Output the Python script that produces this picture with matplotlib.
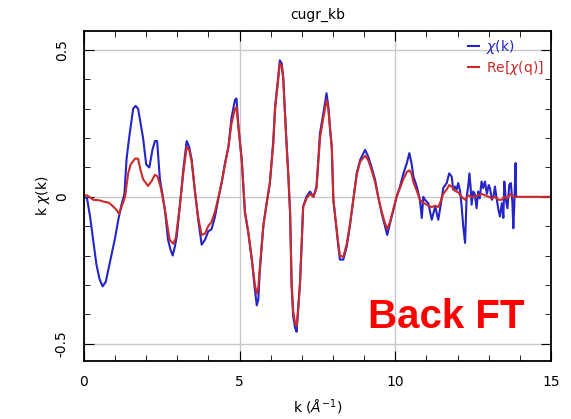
import numpy as np
import matplotlib
matplotlib.use("Agg")
import matplotlib.pyplot as plt
from matplotlib.ticker import MultipleLocator

# chi(k)
k_chi = [0.0, 0.1, 0.2, 0.3, 0.4, 0.5, 0.6, 0.7, 0.8, 0.9, 1.0, 1.1, 1.2, 1.3,
         1.37, 1.45, 1.58, 1.66, 1.74, 1.82, 1.9, 2.0, 2.1, 2.2, 2.28, 2.35,
         2.44, 2.52, 2.6, 2.7, 2.78, 2.85, 2.92, 2.98, 3.08, 3.19, 3.3, 3.38,
         3.46, 3.57, 3.67, 3.78, 3.89, 3.99, 4.1, 4.21, 4.31, 4.42, 4.53, 4.64,
         4.74, 4.85, 4.9, 4.96, 5.07, 5.17, 5.28, 5.39, 5.49, 5.55, 5.6, 5.65,
         5.76, 5.87, 5.97, 6.08, 6.14, 6.24, 6.29, 6.35, 6.4, 6.49, 6.56, 6.62,
         6.67, 6.72, 6.78, 6.83, 6.88, 6.94, 6.99, 7.04, 7.15, 7.26, 7.37, 7.47,
         7.58, 7.69, 7.79, 7.85, 7.9, 7.96, 8.01, 8.1, 8.17, 8.22, 8.33, 8.44,
         8.54, 8.65, 8.76, 8.87, 9.03, 9.13, 9.24, 9.35, 9.45, 9.56, 9.67, 9.74,
         9.83, 9.94, 10.04, 10.15, 10.26, 10.37, 10.45, 10.52, 10.58, 10.69,
         10.79, 10.85, 10.9, 10.95, 11.06, 11.17, 11.28, 11.38, 11.44, 11.54,
         11.65, 11.73, 11.81, 11.86, 11.92, 11.97, 12.02, 12.08, 12.13, 12.18,
         12.24, 12.29, 12.34, 12.38, 12.42, 12.45, 12.5, 12.55, 12.61, 12.66,
         12.71, 12.77, 12.82, 12.88, 12.94, 13.0, 13.04, 13.1, 13.15, 13.2,
         13.26, 13.31, 13.36, 13.42, 13.47, 13.5, 13.55, 13.6, 13.66, 13.71,
         13.76, 13.79, 13.82, 13.86, 13.88]
chi = [0.0, -0.005, -0.07, -0.15, -0.23, -0.28, -0.305, -0.29, -0.24, -0.19,
       -0.14, -0.08, -0.03, 0.01, 0.13, 0.2, 0.3, 0.31, 0.3, 0.25, 0.2, 0.11,
       0.1, 0.16, 0.19, 0.19, 0.06, 0.01, -0.044, -0.146, -0.18, -0.2, -0.17,
       -0.135, -0.033, 0.092, 0.19, 0.17, 0.126, 0.013, -0.078, -0.163, -0.146,
       -0.118, -0.11, -0.067, -0.01, 0.047, 0.115, 0.17, 0.27, 0.33, 0.335,
       0.24, 0.126, -0.055, -0.124, -0.214, -0.316, -0.37, -0.35, -0.25, -0.1,
       -0.02, 0.047, 0.19, 0.31, 0.41, 0.465, 0.455, 0.41, 0.217, 0.08, -0.055,
       -0.305, -0.407, -0.446, -0.46, -0.384, -0.294, -0.169, -0.033, 0.001,
       0.018, 0.0, 0.035, 0.217, 0.285, 0.353, 0.307, 0.239, 0.171, -0.01,
       -0.1, -0.169, -0.214, -0.214, -0.169, -0.1, -0.01, 0.08, 0.126, 0.16,
       0.137, 0.1, 0.058, 0.0, -0.055, -0.1, -0.13, -0.09, -0.044, 0.0, 0.035,
       0.08, 0.115, 0.149, 0.115, 0.069, 0.035, -0.01, -0.072, 0.0, -0.01,
       -0.022, -0.078, -0.033, -0.078, -0.039, 0.03, 0.047, 0.08, 0.069, 0.024,
       0.035, 0.024, 0.047, 0.02, -0.033, -0.1, -0.157, 0.0, 0.035, 0.08, 0.03,
       -0.027, 0.018, 0.01, -0.039, 0.018, -0.005, 0.052, 0.03, 0.052, 0.01,
       0.04, 0.03, -0.01, 0.0, 0.035, -0.01, -0.044, -0.067, -0.022, -0.072,
       0.052, -0.01, -0.039, 0.041, 0.047, -0.02, -0.107, -0.03, 0.115, 0.0]

# Re[chi(q)] back transform
k_re = [0.0, 0.1, 0.3, 0.5, 0.62, 0.8, 0.94, 1.05, 1.13, 1.22, 1.32, 1.42,
        1.5, 1.64, 1.74, 1.82, 1.9, 2.06, 2.18, 2.28, 2.36, 2.46, 2.6, 2.75,
        2.87, 2.95, 3.08, 3.19, 3.3, 3.38, 3.46, 3.57, 3.67, 3.78, 3.89, 3.99,
        4.1, 4.21, 4.31, 4.42, 4.53, 4.64, 4.74, 4.85, 4.9, 4.96, 5.07, 5.17,
        5.28, 5.39, 5.49, 5.55, 5.6, 5.65, 5.76, 5.87, 5.97, 6.08, 6.14, 6.24,
        6.29, 6.35, 6.4, 6.49, 6.56, 6.62, 6.67, 6.72, 6.78, 6.83, 6.88, 6.94,
        6.99, 7.04, 7.15, 7.26, 7.37, 7.47, 7.58, 7.69, 7.79, 7.85, 7.9, 7.96,
        8.01, 8.1, 8.17, 8.22, 8.33, 8.44, 8.54, 8.65, 8.76, 8.87, 9.03, 9.13,
        9.24, 9.35, 9.45, 9.56, 9.67, 9.74, 9.83, 9.94, 10.04, 10.15, 10.26,
        10.37, 10.45, 10.52, 10.58, 10.69, 10.79, 10.9, 11.06, 11.17, 11.28,
        11.38, 11.44, 11.54, 11.65, 11.73, 11.81, 11.92, 12.02, 12.13, 12.24,
        12.34, 12.45, 12.55, 12.66, 12.77, 12.88, 13.0, 13.1, 13.2, 13.31,
        13.42, 13.5, 13.6, 13.7, 13.8, 13.9, 15.0]
re_chi = [0.005, 0.005, -0.01, -0.012, -0.016, -0.02, -0.033, -0.045, -0.058,
          -0.03, 0.0, 0.08, 0.11, 0.13, 0.13, 0.09, 0.06, 0.037, 0.055, 0.075,
          0.07, 0.035, -0.044, -0.146, -0.16, -0.14, -0.03, 0.08, 0.17, 0.16,
          0.12, 0.015, -0.07, -0.13, -0.125, -0.1, -0.085, -0.05, -0.005,
          0.047, 0.11, 0.17, 0.25, 0.3, 0.305, 0.24, 0.12, -0.05, -0.12, -0.21,
          -0.3, -0.33, -0.31, -0.24, -0.1, -0.02, 0.045, 0.18, 0.3, 0.4, 0.455,
          0.445, 0.4, 0.21, 0.08, -0.05, -0.29, -0.39, -0.43, -0.44, -0.38,
          -0.29, -0.165, -0.035, -0.005, 0.01, 0.0, 0.03, 0.2, 0.27, 0.33, 0.3,
          0.235, 0.165, -0.01, -0.095, -0.16, -0.2, -0.205, -0.16, -0.095,
          -0.01, 0.075, 0.12, 0.14, 0.125, 0.09, 0.05, 0.0, -0.05, -0.09, -0.11,
          -0.085, -0.04, 0.0, 0.03, 0.06, 0.085, 0.09, 0.08, 0.05, 0.02, -0.01,
          -0.02, -0.03, -0.035, -0.03, -0.035, -0.02, 0.01, 0.025, 0.04, 0.035,
          0.02, 0.015, 0.0, -0.01, 0.005, 0.0, 0.0, 0.005, 0.01, 0.005, 0.0,
          -0.005, 0.0, -0.01, -0.01, 0.0, -0.005, 0.01, 0.0, 0.0, 0.0]

blue = "#2424c8"
red = "#cc2a2a"

fig = plt.figure(figsize=(5.71, 4.19), dpi=100)
ax = fig.add_axes([0.147, 0.138, 0.818, 0.788])

ax.grid(True, color="#c8c8c8", lw=1)
ax.set_axisbelow(True)
ax.plot(k_chi, chi, color=blue, lw=1.5, label=r"$\chi$(k)")
ax.plot(k_re, re_chi, color=red, lw=1.5, label=r"Re[$\chi$(q)]")

ax.set_xlim(0, 15)
ax.set_ylim(-0.56, 0.565)
ax.xaxis.set_major_locator(MultipleLocator(5))
ax.xaxis.set_minor_locator(MultipleLocator(1))
ax.yaxis.set_major_locator(MultipleLocator(0.5))
ax.yaxis.set_minor_locator(MultipleLocator(0.1))
ax.set_yticks([-0.5, 0, 0.5])
ax.set_yticklabels(["-0.5", "0", "0.5"], rotation=90, va="center")
ax.set_xticks([0, 5, 10, 15])
ax.set_xticklabels(["0", "5", "10", "15"])
ax.tick_params(which="both", direction="in", top=True, right=True, labelsize=10)
ax.tick_params(which="major", length=7)
ax.tick_params(which="minor", length=4)
ax.tick_params(axis="x", which="major", pad=10)
ax.tick_params(axis="y", which="major", pad=11)
for s in ax.spines.values():
    s.set_linewidth(1.3)

ax.set_title("cugr_kb", fontsize=10, pad=9)
ax.set_xlabel(r"k ($\AA^{-1}$)", fontsize=10, labelpad=6)
ax.set_ylabel(r"k $\chi$(k)", fontsize=10, labelpad=2)

ax.legend(loc="upper right", frameon=False, handlelength=0.8, handletextpad=0.5,
          labelcolor="linecolor", fontsize=10, borderaxespad=0.1, labelspacing=0.2)

ax.text(0.775, 0.135, "Back FT", transform=ax.transAxes, color="red",
        fontsize=29, fontweight="bold", family="Liberation Sans",
        ha="center", va="center")

fig.savefig("out.png", dpi=100)
